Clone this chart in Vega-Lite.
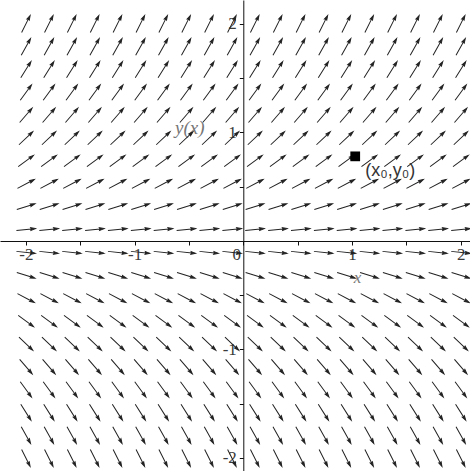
{
"$schema": "https://vega.github.io/schema/vega-lite/v6.json",
"width": 470, "height": 471, "autosize": "none", "padding": 0,
"background": "white",
"config": {"view": {"stroke": null}},
"datasets": {
"field": [
{"x":-2,"y":2,"a":-63.43},{"x":-1.789,"y":2,"a":-63.43},{"x":-1.579,"y":2,"a":-63.43},{"x":-1.368,"y":2,"a":-63.43},{"x":-1.158,"y":2,"a":-63.43},{"x":-0.947,"y":2,"a":-63.43},{"x":-0.737,"y":2,"a":-63.43},{"x":-0.526,"y":2,"a":-63.43},{"x":-0.316,"y":2,"a":-63.43},{"x":-0.105,"y":2,"a":-63.43},{"x":0.105,"y":2,"a":-63.43},{"x":0.316,"y":2,"a":-63.43},{"x":0.526,"y":2,"a":-63.43},{"x":0.737,"y":2,"a":-63.43},{"x":0.947,"y":2,"a":-63.43},{"x":1.158,"y":2,"a":-63.43},{"x":1.368,"y":2,"a":-63.43},{"x":1.579,"y":2,"a":-63.43},{"x":1.789,"y":2,"a":-63.43},{"x":2,"y":2,"a":-63.43},
{"x":-2,"y":1.789,"a":-60.8},{"x":-1.789,"y":1.789,"a":-60.8},{"x":-1.579,"y":1.789,"a":-60.8},{"x":-1.368,"y":1.789,"a":-60.8},{"x":-1.158,"y":1.789,"a":-60.8},{"x":-0.947,"y":1.789,"a":-60.8},{"x":-0.737,"y":1.789,"a":-60.8},{"x":-0.526,"y":1.789,"a":-60.8},{"x":-0.316,"y":1.789,"a":-60.8},{"x":-0.105,"y":1.789,"a":-60.8},{"x":0.105,"y":1.789,"a":-60.8},{"x":0.316,"y":1.789,"a":-60.8},{"x":0.526,"y":1.789,"a":-60.8},{"x":0.737,"y":1.789,"a":-60.8},{"x":0.947,"y":1.789,"a":-60.8},{"x":1.158,"y":1.789,"a":-60.8},{"x":1.368,"y":1.789,"a":-60.8},{"x":1.579,"y":1.789,"a":-60.8},{"x":1.789,"y":1.789,"a":-60.8},{"x":2,"y":1.789,"a":-60.8},
{"x":-2,"y":1.579,"a":-57.65},{"x":-1.789,"y":1.579,"a":-57.65},{"x":-1.579,"y":1.579,"a":-57.65},{"x":-1.368,"y":1.579,"a":-57.65},{"x":-1.158,"y":1.579,"a":-57.65},{"x":-0.947,"y":1.579,"a":-57.65},{"x":-0.737,"y":1.579,"a":-57.65},{"x":-0.526,"y":1.579,"a":-57.65},{"x":-0.316,"y":1.579,"a":-57.65},{"x":-0.105,"y":1.579,"a":-57.65},{"x":0.105,"y":1.579,"a":-57.65},{"x":0.316,"y":1.579,"a":-57.65},{"x":0.526,"y":1.579,"a":-57.65},{"x":0.737,"y":1.579,"a":-57.65},{"x":0.947,"y":1.579,"a":-57.65},{"x":1.158,"y":1.579,"a":-57.65},{"x":1.368,"y":1.579,"a":-57.65},{"x":1.579,"y":1.579,"a":-57.65},{"x":1.789,"y":1.579,"a":-57.65},{"x":2,"y":1.579,"a":-57.65},
{"x":-2,"y":1.368,"a":-53.84},{"x":-1.789,"y":1.368,"a":-53.84},{"x":-1.579,"y":1.368,"a":-53.84},{"x":-1.368,"y":1.368,"a":-53.84},{"x":-1.158,"y":1.368,"a":-53.84},{"x":-0.947,"y":1.368,"a":-53.84},{"x":-0.737,"y":1.368,"a":-53.84},{"x":-0.526,"y":1.368,"a":-53.84},{"x":-0.316,"y":1.368,"a":-53.84},{"x":-0.105,"y":1.368,"a":-53.84},{"x":0.105,"y":1.368,"a":-53.84},{"x":0.316,"y":1.368,"a":-53.84},{"x":0.526,"y":1.368,"a":-53.84},{"x":0.737,"y":1.368,"a":-53.84},{"x":0.947,"y":1.368,"a":-53.84},{"x":1.158,"y":1.368,"a":-53.84},{"x":1.368,"y":1.368,"a":-53.84},{"x":1.579,"y":1.368,"a":-53.84},{"x":1.789,"y":1.368,"a":-53.84},{"x":2,"y":1.368,"a":-53.84},
{"x":-2,"y":1.158,"a":-49.18},{"x":-1.789,"y":1.158,"a":-49.18},{"x":-1.579,"y":1.158,"a":-49.18},{"x":-1.368,"y":1.158,"a":-49.18},{"x":-1.158,"y":1.158,"a":-49.18},{"x":-0.947,"y":1.158,"a":-49.18},{"x":-0.737,"y":1.158,"a":-49.18},{"x":-0.526,"y":1.158,"a":-49.18},{"x":-0.316,"y":1.158,"a":-49.18},{"x":-0.105,"y":1.158,"a":-49.18},{"x":0.105,"y":1.158,"a":-49.18},{"x":0.316,"y":1.158,"a":-49.18},{"x":0.526,"y":1.158,"a":-49.18},{"x":0.737,"y":1.158,"a":-49.18},{"x":0.947,"y":1.158,"a":-49.18},{"x":1.158,"y":1.158,"a":-49.18},{"x":1.368,"y":1.158,"a":-49.18},{"x":1.579,"y":1.158,"a":-49.18},{"x":1.789,"y":1.158,"a":-49.18},{"x":2,"y":1.158,"a":-49.18},
{"x":-2,"y":0.947,"a":-43.44},{"x":-1.789,"y":0.947,"a":-43.44},{"x":-1.579,"y":0.947,"a":-43.44},{"x":-1.368,"y":0.947,"a":-43.44},{"x":-1.158,"y":0.947,"a":-43.44},{"x":-0.947,"y":0.947,"a":-43.44},{"x":-0.737,"y":0.947,"a":-43.44},{"x":-0.526,"y":0.947,"a":-43.44},{"x":-0.316,"y":0.947,"a":-43.44},{"x":-0.105,"y":0.947,"a":-43.44},{"x":0.105,"y":0.947,"a":-43.44},{"x":0.316,"y":0.947,"a":-43.44},{"x":0.526,"y":0.947,"a":-43.44},{"x":0.737,"y":0.947,"a":-43.44},{"x":0.947,"y":0.947,"a":-43.44},{"x":1.158,"y":0.947,"a":-43.44},{"x":1.368,"y":0.947,"a":-43.44},{"x":1.579,"y":0.947,"a":-43.44},{"x":1.789,"y":0.947,"a":-43.44},{"x":2,"y":0.947,"a":-43.44},
{"x":-2,"y":0.737,"a":-36.38},{"x":-1.789,"y":0.737,"a":-36.38},{"x":-1.579,"y":0.737,"a":-36.38},{"x":-1.368,"y":0.737,"a":-36.38},{"x":-1.158,"y":0.737,"a":-36.38},{"x":-0.947,"y":0.737,"a":-36.38},{"x":-0.737,"y":0.737,"a":-36.38},{"x":-0.526,"y":0.737,"a":-36.38},{"x":-0.316,"y":0.737,"a":-36.38},{"x":-0.105,"y":0.737,"a":-36.38},{"x":0.105,"y":0.737,"a":-36.38},{"x":0.316,"y":0.737,"a":-36.38},{"x":0.526,"y":0.737,"a":-36.38},{"x":0.737,"y":0.737,"a":-36.38},{"x":0.947,"y":0.737,"a":-36.38},{"x":1.158,"y":0.737,"a":-36.38},{"x":1.368,"y":0.737,"a":-36.38},{"x":1.579,"y":0.737,"a":-36.38},{"x":1.789,"y":0.737,"a":-36.38},{"x":2,"y":0.737,"a":-36.38},
{"x":-2,"y":0.526,"a":-27.76},{"x":-1.789,"y":0.526,"a":-27.76},{"x":-1.579,"y":0.526,"a":-27.76},{"x":-1.368,"y":0.526,"a":-27.76},{"x":-1.158,"y":0.526,"a":-27.76},{"x":-0.947,"y":0.526,"a":-27.76},{"x":-0.737,"y":0.526,"a":-27.76},{"x":-0.526,"y":0.526,"a":-27.76},{"x":-0.316,"y":0.526,"a":-27.76},{"x":-0.105,"y":0.526,"a":-27.76},{"x":0.105,"y":0.526,"a":-27.76},{"x":0.316,"y":0.526,"a":-27.76},{"x":0.526,"y":0.526,"a":-27.76},{"x":0.737,"y":0.526,"a":-27.76},{"x":0.947,"y":0.526,"a":-27.76},{"x":1.158,"y":0.526,"a":-27.76},{"x":1.368,"y":0.526,"a":-27.76},{"x":1.579,"y":0.526,"a":-27.76},{"x":1.789,"y":0.526,"a":-27.76},{"x":2,"y":0.526,"a":-27.76},
{"x":-2,"y":0.316,"a":-17.53},{"x":-1.789,"y":0.316,"a":-17.53},{"x":-1.579,"y":0.316,"a":-17.53},{"x":-1.368,"y":0.316,"a":-17.53},{"x":-1.158,"y":0.316,"a":-17.53},{"x":-0.947,"y":0.316,"a":-17.53},{"x":-0.737,"y":0.316,"a":-17.53},{"x":-0.526,"y":0.316,"a":-17.53},{"x":-0.316,"y":0.316,"a":-17.53},{"x":-0.105,"y":0.316,"a":-17.53},{"x":0.105,"y":0.316,"a":-17.53},{"x":0.316,"y":0.316,"a":-17.53},{"x":0.526,"y":0.316,"a":-17.53},{"x":0.737,"y":0.316,"a":-17.53},{"x":0.947,"y":0.316,"a":-17.53},{"x":1.158,"y":0.316,"a":-17.53},{"x":1.368,"y":0.316,"a":-17.53},{"x":1.579,"y":0.316,"a":-17.53},{"x":1.789,"y":0.316,"a":-17.53},{"x":2,"y":0.316,"a":-17.53},
{"x":-2,"y":0.105,"a":-6.01},{"x":-1.789,"y":0.105,"a":-6.01},{"x":-1.579,"y":0.105,"a":-6.01},{"x":-1.368,"y":0.105,"a":-6.01},{"x":-1.158,"y":0.105,"a":-6.01},{"x":-0.947,"y":0.105,"a":-6.01},{"x":-0.737,"y":0.105,"a":-6.01},{"x":-0.526,"y":0.105,"a":-6.01},{"x":-0.316,"y":0.105,"a":-6.01},{"x":-0.105,"y":0.105,"a":-6.01},{"x":0.105,"y":0.105,"a":-6.01},{"x":0.316,"y":0.105,"a":-6.01},{"x":0.526,"y":0.105,"a":-6.01},{"x":0.737,"y":0.105,"a":-6.01},{"x":0.947,"y":0.105,"a":-6.01},{"x":1.158,"y":0.105,"a":-6.01},{"x":1.368,"y":0.105,"a":-6.01},{"x":1.579,"y":0.105,"a":-6.01},{"x":1.789,"y":0.105,"a":-6.01},{"x":2,"y":0.105,"a":-6.01},
{"x":-2,"y":-0.105,"a":6.01},{"x":-1.789,"y":-0.105,"a":6.01},{"x":-1.579,"y":-0.105,"a":6.01},{"x":-1.368,"y":-0.105,"a":6.01},{"x":-1.158,"y":-0.105,"a":6.01},{"x":-0.947,"y":-0.105,"a":6.01},{"x":-0.737,"y":-0.105,"a":6.01},{"x":-0.526,"y":-0.105,"a":6.01},{"x":-0.316,"y":-0.105,"a":6.01},{"x":-0.105,"y":-0.105,"a":6.01},{"x":0.105,"y":-0.105,"a":6.01},{"x":0.316,"y":-0.105,"a":6.01},{"x":0.526,"y":-0.105,"a":6.01},{"x":0.737,"y":-0.105,"a":6.01},{"x":0.947,"y":-0.105,"a":6.01},{"x":1.158,"y":-0.105,"a":6.01},{"x":1.368,"y":-0.105,"a":6.01},{"x":1.579,"y":-0.105,"a":6.01},{"x":1.789,"y":-0.105,"a":6.01},{"x":2,"y":-0.105,"a":6.01},
{"x":-2,"y":-0.316,"a":17.53},{"x":-1.789,"y":-0.316,"a":17.53},{"x":-1.579,"y":-0.316,"a":17.53},{"x":-1.368,"y":-0.316,"a":17.53},{"x":-1.158,"y":-0.316,"a":17.53},{"x":-0.947,"y":-0.316,"a":17.53},{"x":-0.737,"y":-0.316,"a":17.53},{"x":-0.526,"y":-0.316,"a":17.53},{"x":-0.316,"y":-0.316,"a":17.53},{"x":-0.105,"y":-0.316,"a":17.53},{"x":0.105,"y":-0.316,"a":17.53},{"x":0.316,"y":-0.316,"a":17.53},{"x":0.526,"y":-0.316,"a":17.53},{"x":0.737,"y":-0.316,"a":17.53},{"x":0.947,"y":-0.316,"a":17.53},{"x":1.158,"y":-0.316,"a":17.53},{"x":1.368,"y":-0.316,"a":17.53},{"x":1.579,"y":-0.316,"a":17.53},{"x":1.789,"y":-0.316,"a":17.53},{"x":2,"y":-0.316,"a":17.53},
{"x":-2,"y":-0.526,"a":27.76},{"x":-1.789,"y":-0.526,"a":27.76},{"x":-1.579,"y":-0.526,"a":27.76},{"x":-1.368,"y":-0.526,"a":27.76},{"x":-1.158,"y":-0.526,"a":27.76},{"x":-0.947,"y":-0.526,"a":27.76},{"x":-0.737,"y":-0.526,"a":27.76},{"x":-0.526,"y":-0.526,"a":27.76},{"x":-0.316,"y":-0.526,"a":27.76},{"x":-0.105,"y":-0.526,"a":27.76},{"x":0.105,"y":-0.526,"a":27.76},{"x":0.316,"y":-0.526,"a":27.76},{"x":0.526,"y":-0.526,"a":27.76},{"x":0.737,"y":-0.526,"a":27.76},{"x":0.947,"y":-0.526,"a":27.76},{"x":1.158,"y":-0.526,"a":27.76},{"x":1.368,"y":-0.526,"a":27.76},{"x":1.579,"y":-0.526,"a":27.76},{"x":1.789,"y":-0.526,"a":27.76},{"x":2,"y":-0.526,"a":27.76},
{"x":-2,"y":-0.737,"a":36.38},{"x":-1.789,"y":-0.737,"a":36.38},{"x":-1.579,"y":-0.737,"a":36.38},{"x":-1.368,"y":-0.737,"a":36.38},{"x":-1.158,"y":-0.737,"a":36.38},{"x":-0.947,"y":-0.737,"a":36.38},{"x":-0.737,"y":-0.737,"a":36.38},{"x":-0.526,"y":-0.737,"a":36.38},{"x":-0.316,"y":-0.737,"a":36.38},{"x":-0.105,"y":-0.737,"a":36.38},{"x":0.105,"y":-0.737,"a":36.38},{"x":0.316,"y":-0.737,"a":36.38},{"x":0.526,"y":-0.737,"a":36.38},{"x":0.737,"y":-0.737,"a":36.38},{"x":0.947,"y":-0.737,"a":36.38},{"x":1.158,"y":-0.737,"a":36.38},{"x":1.368,"y":-0.737,"a":36.38},{"x":1.579,"y":-0.737,"a":36.38},{"x":1.789,"y":-0.737,"a":36.38},{"x":2,"y":-0.737,"a":36.38},
{"x":-2,"y":-0.947,"a":43.44},{"x":-1.789,"y":-0.947,"a":43.44},{"x":-1.579,"y":-0.947,"a":43.44},{"x":-1.368,"y":-0.947,"a":43.44},{"x":-1.158,"y":-0.947,"a":43.44},{"x":-0.947,"y":-0.947,"a":43.44},{"x":-0.737,"y":-0.947,"a":43.44},{"x":-0.526,"y":-0.947,"a":43.44},{"x":-0.316,"y":-0.947,"a":43.44},{"x":-0.105,"y":-0.947,"a":43.44},{"x":0.105,"y":-0.947,"a":43.44},{"x":0.316,"y":-0.947,"a":43.44},{"x":0.526,"y":-0.947,"a":43.44},{"x":0.737,"y":-0.947,"a":43.44},{"x":0.947,"y":-0.947,"a":43.44},{"x":1.158,"y":-0.947,"a":43.44},{"x":1.368,"y":-0.947,"a":43.44},{"x":1.579,"y":-0.947,"a":43.44},{"x":1.789,"y":-0.947,"a":43.44},{"x":2,"y":-0.947,"a":43.44},
{"x":-2,"y":-1.158,"a":49.18},{"x":-1.789,"y":-1.158,"a":49.18},{"x":-1.579,"y":-1.158,"a":49.18},{"x":-1.368,"y":-1.158,"a":49.18},{"x":-1.158,"y":-1.158,"a":49.18},{"x":-0.947,"y":-1.158,"a":49.18},{"x":-0.737,"y":-1.158,"a":49.18},{"x":-0.526,"y":-1.158,"a":49.18},{"x":-0.316,"y":-1.158,"a":49.18},{"x":-0.105,"y":-1.158,"a":49.18},{"x":0.105,"y":-1.158,"a":49.18},{"x":0.316,"y":-1.158,"a":49.18},{"x":0.526,"y":-1.158,"a":49.18},{"x":0.737,"y":-1.158,"a":49.18},{"x":0.947,"y":-1.158,"a":49.18},{"x":1.158,"y":-1.158,"a":49.18},{"x":1.368,"y":-1.158,"a":49.18},{"x":1.579,"y":-1.158,"a":49.18},{"x":1.789,"y":-1.158,"a":49.18},{"x":2,"y":-1.158,"a":49.18},
{"x":-2,"y":-1.368,"a":53.84},{"x":-1.789,"y":-1.368,"a":53.84},{"x":-1.579,"y":-1.368,"a":53.84},{"x":-1.368,"y":-1.368,"a":53.84},{"x":-1.158,"y":-1.368,"a":53.84},{"x":-0.947,"y":-1.368,"a":53.84},{"x":-0.737,"y":-1.368,"a":53.84},{"x":-0.526,"y":-1.368,"a":53.84},{"x":-0.316,"y":-1.368,"a":53.84},{"x":-0.105,"y":-1.368,"a":53.84},{"x":0.105,"y":-1.368,"a":53.84},{"x":0.316,"y":-1.368,"a":53.84},{"x":0.526,"y":-1.368,"a":53.84},{"x":0.737,"y":-1.368,"a":53.84},{"x":0.947,"y":-1.368,"a":53.84},{"x":1.158,"y":-1.368,"a":53.84},{"x":1.368,"y":-1.368,"a":53.84},{"x":1.579,"y":-1.368,"a":53.84},{"x":1.789,"y":-1.368,"a":53.84},{"x":2,"y":-1.368,"a":53.84},
{"x":-2,"y":-1.579,"a":57.65},{"x":-1.789,"y":-1.579,"a":57.65},{"x":-1.579,"y":-1.579,"a":57.65},{"x":-1.368,"y":-1.579,"a":57.65},{"x":-1.158,"y":-1.579,"a":57.65},{"x":-0.947,"y":-1.579,"a":57.65},{"x":-0.737,"y":-1.579,"a":57.65},{"x":-0.526,"y":-1.579,"a":57.65},{"x":-0.316,"y":-1.579,"a":57.65},{"x":-0.105,"y":-1.579,"a":57.65},{"x":0.105,"y":-1.579,"a":57.65},{"x":0.316,"y":-1.579,"a":57.65},{"x":0.526,"y":-1.579,"a":57.65},{"x":0.737,"y":-1.579,"a":57.65},{"x":0.947,"y":-1.579,"a":57.65},{"x":1.158,"y":-1.579,"a":57.65},{"x":1.368,"y":-1.579,"a":57.65},{"x":1.579,"y":-1.579,"a":57.65},{"x":1.789,"y":-1.579,"a":57.65},{"x":2,"y":-1.579,"a":57.65},
{"x":-2,"y":-1.789,"a":60.8},{"x":-1.789,"y":-1.789,"a":60.8},{"x":-1.579,"y":-1.789,"a":60.8},{"x":-1.368,"y":-1.789,"a":60.8},{"x":-1.158,"y":-1.789,"a":60.8},{"x":-0.947,"y":-1.789,"a":60.8},{"x":-0.737,"y":-1.789,"a":60.8},{"x":-0.526,"y":-1.789,"a":60.8},{"x":-0.316,"y":-1.789,"a":60.8},{"x":-0.105,"y":-1.789,"a":60.8},{"x":0.105,"y":-1.789,"a":60.8},{"x":0.316,"y":-1.789,"a":60.8},{"x":0.526,"y":-1.789,"a":60.8},{"x":0.737,"y":-1.789,"a":60.8},{"x":0.947,"y":-1.789,"a":60.8},{"x":1.158,"y":-1.789,"a":60.8},{"x":1.368,"y":-1.789,"a":60.8},{"x":1.579,"y":-1.789,"a":60.8},{"x":1.789,"y":-1.789,"a":60.8},{"x":2,"y":-1.789,"a":60.8},
{"x":-2,"y":-2,"a":63.43},{"x":-1.789,"y":-2,"a":63.43},{"x":-1.579,"y":-2,"a":63.43},{"x":-1.368,"y":-2,"a":63.43},{"x":-1.158,"y":-2,"a":63.43},{"x":-0.947,"y":-2,"a":63.43},{"x":-0.737,"y":-2,"a":63.43},{"x":-0.526,"y":-2,"a":63.43},{"x":-0.316,"y":-2,"a":63.43},{"x":-0.105,"y":-2,"a":63.43},{"x":0.105,"y":-2,"a":63.43},{"x":0.316,"y":-2,"a":63.43},{"x":0.526,"y":-2,"a":63.43},{"x":0.737,"y":-2,"a":63.43},{"x":0.947,"y":-2,"a":63.43},{"x":1.158,"y":-2,"a":63.43},{"x":1.368,"y":-2,"a":63.43},{"x":1.579,"y":-2,"a":63.43},{"x":1.789,"y":-2,"a":63.43},{"x":2,"y":-2,"a":63.43}
],
"pt": [{"x":1.03,"y":0.78,"label":"(x₀,y₀)"}]
},
"layer": [
{"data": {"name": "field"},
 "mark": {"type": "point", "shape": "M-1,0L0.6,0M1,0L0.52,-0.14L0.58,0L0.52,0.14Z", "filled": true, "size": 361, "color": "#222", "stroke": "#222", "strokeWidth": 1, "opacity": 1},
 "encoding": {
  "x": {"field": "x", "type": "quantitative",
   "scale": {"domain": [-2.238, 2.086], "nice": false, "zero": false},
   "axis": {"orient": "bottom", "offset": -230, "values": [-2,-1.5,-1,-0.5,0,0.5,1,1.5,2],
    "labelExpr": "datum.value % 1 == 0 ? toString(datum.value) : ''",
    "grid": false, "domainColor": "#111", "domainWidth": 1, "tickColor": "#111", "tickSize": 4, "tickWidth": 1,
    "labelFont": "Liberation Serif", "labelFontSize": 17, "labelColor": "#3a3a3a", "labelPadding": 1,
    "labelOffset": {"condition": {"test": "datum.value === 0", "value": -7}, "value": 0},
    "labelFlush": false, "labelOverlap": false,
    "title": "x", "titleFont": "Liberation Serif", "titleFontStyle": "italic", "titleFontWeight": "normal", "titleFontSize": 17, "titleColor": "#777",
    "titleX": 357, "titleY": 41, "titleAlign": "center", "titleBaseline": "alphabetic", "titleAngle": 0}},
  "y": {"field": "y", "type": "quantitative",
   "scale": {"domain": [-2.12, 2.221], "nice": false, "zero": false},
   "axis": {"orient": "left", "offset": -243.3, "values": [-2,-1.5,-1,-0.5,0.5,1,1.5,2],
    "labelExpr": "datum.value % 1 == 0 ? toString(datum.value) : ''",
    "grid": false, "domainColor": "#111", "domainWidth": 1, "tickColor": "#111", "tickSize": 4, "tickWidth": 1,
    "labelFont": "Liberation Serif", "labelFontSize": 17, "labelColor": "#3a3a3a", "labelPadding": 3,
    "labelFlush": false, "labelOverlap": false, "labelBaseline": "middle",
    "title": "y(x)", "titleFont": "Liberation Serif", "titleFontStyle": "italic", "titleFontWeight": "normal", "titleFontSize": 19, "titleColor": "#777",
    "titleX": -54, "titleY": 133, "titleAlign": "center", "titleBaseline": "alphabetic", "titleAngle": 0}},
  "angle": {"field": "a", "type": "quantitative", "scale": null}
 }},
{"data": {"name": "pt"},
 "mark": {"type": "point", "shape": "square", "filled": true, "size": 95, "color": "#000", "opacity": 1},
 "encoding": {"x": {"field": "x", "type": "quantitative"}, "y": {"field": "y", "type": "quantitative"}}},
{"data": {"name": "pt"},
 "mark": {"type": "text", "align": "left", "baseline": "middle", "dx": 10, "dy": 15, "font": "Liberation Sans", "fontSize": 18, "color": "#333"},
 "encoding": {"x": {"field": "x", "type": "quantitative"}, "y": {"field": "y", "type": "quantitative"}, "text": {"field": "label"}}}
]
}
